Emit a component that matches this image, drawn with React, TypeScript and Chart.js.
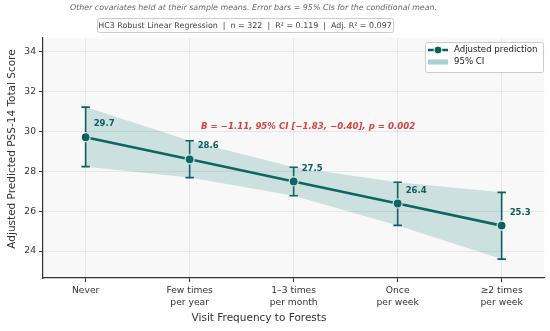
import React, { useEffect, useRef } from "react";
import { Chart, registerables } from "chart.js";

Chart.register(...registerables);

const categories: string[][] = [
  ["Never"],
  ["Few times", "per year"],
  ["1–3 times", "per month"],
  ["Once", "per week"],
  ["≥2 times", "per week"],
];
const predicted = [29.72, 28.61, 27.5, 26.39, 25.28];
const ciLow = [28.24, 27.69, 26.78, 25.29, 23.6];
const ciHigh = [31.23, 29.54, 28.21, 27.46, 26.95];
const yTicks = [24, 26, 28, 30, 32, 34];

const subtitleText =
  "Other covariates held at their sample means. Error bars = 95% CIs for the conditional mean.";
const modelText =
  "HC3 Robust Linear Regression  |  n = 322  |  R² = 0.119  |  Adj. R² = 0.097";
const slopeText = "B = −1.11, 95% CI [−1.83, −0.40], p = 0.002";
const xTitle = "Visit Frequency to Forests";
const yTitle = "Adjusted Predicted PSS-14 Total Score";
const legendLine = "Adjusted prediction";
const legendBand = "95% CI";

const TEAL = "#0b5e5b";
const FONT = "'DejaVu Sans', 'Liberation Sans', sans-serif";

const decorPlugin = {
  id: "decor",
  beforeDraw(chart: any) {
    const { ctx, chartArea } = chart;
    ctx.save();
    ctx.fillStyle = "#ffffff";
    ctx.fillRect(0, 0, chart.width, chart.height);
    ctx.fillStyle = "#f8f8f8";
    ctx.fillRect(
      chartArea.left,
      chartArea.top,
      chartArea.right - chartArea.left,
      chartArea.bottom - chartArea.top
    );
    ctx.restore();
  },
  beforeDatasetDraw(chart: any, args: any) {
    if (args.index !== 2) return;
    const { ctx } = chart;
    const xs = chart.scales.x;
    const ys = chart.scales.y;
    ctx.save();
    ctx.strokeStyle = TEAL;
    ctx.lineWidth = 1.6;
    ciLow.forEach((lo, i) => {
      const x = xs.getPixelForValue(i);
      const y1 = ys.getPixelForValue(lo);
      const y2 = ys.getPixelForValue(ciHigh[i]);
      ctx.beginPath();
      ctx.moveTo(x, y1);
      ctx.lineTo(x, y2);
      ctx.moveTo(x - 4.2, y1);
      ctx.lineTo(x + 4.2, y1);
      ctx.moveTo(x - 4.2, y2);
      ctx.lineTo(x + 4.2, y2);
      ctx.stroke();
    });
    ctx.restore();
  },
  afterDraw(chart: any) {
    const { ctx } = chart;
    const xs = chart.scales.x;
    const ys = chart.scales.y;
    ctx.save();
    // value labels
    ctx.fillStyle = TEAL;
    ctx.font = `bold 8.5px ${FONT}`;
    ctx.textAlign = "left";
    ctx.textBaseline = "middle";
    predicted.forEach((v, i) => {
      const x = xs.getPixelForValue(i);
      const y = ys.getPixelForValue(v);
      ctx.fillText(v.toFixed(1), x + 8, y - 13);
    });
    // slope annotation
    ctx.fillStyle = "#d9433b";
    ctx.font = `italic bold 8.6px ${FONT}`;
    ctx.fillText(slopeText, 201, 127);

    // subtitle
    ctx.fillStyle = "#666666";
    ctx.font = `italic 7.9px ${FONT}`;
    ctx.textAlign = "center";
    ctx.fillText(subtitleText, 253.5, 8);

    // model box
    ctx.font = `7.95px ${FONT}`;
    const bx = 97, by = 18, bw = 296, bh = 14;
    ctx.fillStyle = "#ffffff";
    ctx.strokeStyle = "#cccccc";
    ctx.lineWidth = 1;
    ctx.beginPath();
    ctx.roundRect(bx + 0.5, by + 0.5, bw, bh, 2);
    ctx.fill();
    ctx.stroke();
    ctx.fillStyle = "#444444";
    ctx.fillText(modelText, bx + bw / 2, by + bh / 2 + 0.5);

    // axis titles
    ctx.fillStyle = "#333333";
    ctx.font = `10.5px ${FONT}`;
    ctx.fillText(xTitle, 259, 318);
    ctx.save();
    ctx.translate(12, 149);
    ctx.rotate(-Math.PI / 2);
    ctx.fillText(yTitle, 0, 0);
    ctx.restore();

    // legend
    const lx = 425, ly = 42, lw = 118, lh = 30;
    ctx.fillStyle = "rgba(255,255,255,0.9)";
    ctx.strokeStyle = "#cccccc";
    ctx.beginPath();
    ctx.roundRect(lx + 0.5, ly + 0.5, lw, lh, 2);
    ctx.fill();
    ctx.stroke();
    ctx.strokeStyle = TEAL;
    ctx.lineWidth = 2.5;
    ctx.beginPath();
    ctx.moveTo(428, 50);
    ctx.lineTo(448, 50);
    ctx.stroke();
    ctx.fillStyle = TEAL;
    ctx.strokeStyle = "#ffffff";
    ctx.lineWidth = 1;
    ctx.beginPath();
    ctx.arc(438, 50, 4, 0, Math.PI * 2);
    ctx.fill();
    ctx.stroke();
    ctx.fillStyle = "#a8d0d0";
    ctx.fillRect(428, 59.5, 20, 5);
    ctx.fillStyle = "#222222";
    ctx.font = `8.6px ${FONT}`;
    ctx.textAlign = "left";
    ctx.fillText(legendLine, 454, 50);
    ctx.fillText(legendBand, 454, 62);
    ctx.restore();
  },
};

export default function App() {
  const ref = useRef<HTMLCanvasElement | null>(null);
  useEffect(() => {
    if (!ref.current) return;
    const pts = (arr: number[]) => arr.map((y, i) => ({ x: i, y }));
    const chart = new Chart(ref.current, {
      type: "line",
      data: {
        datasets: [
          {
            data: pts(ciLow),
            borderWidth: 0,
            pointRadius: 0,
            fill: false,
            borderColor: "rgba(0,0,0,0)",
          },
          {
            data: pts(ciHigh),
            borderWidth: 0,
            pointRadius: 0,
            fill: "-1",
            borderColor: "rgba(0,0,0,0)",
            backgroundColor: "rgba(30,130,130,0.2)",
          },
          {
            data: pts(predicted),
            borderColor: TEAL,
            borderWidth: 2.6,
            pointRadius: 4.5,
            pointBackgroundColor: TEAL,
            pointBorderColor: "#ffffff",
            pointBorderWidth: 1.2,
            fill: false,
          },
        ],
      },
      options: {
        responsive: false,
        devicePixelRatio: 1,
        animation: false,
        layout: { padding: { top: 38, right: 1, left: 0, bottom: 0 } },
        plugins: { legend: { display: false }, tooltip: { enabled: false } },
        scales: {
          x: {
            type: "linear",
            min: -0.41,
            max: 4.41,
            afterBuildTicks: (s: any) => {
              s.ticks = categories.map((_, i) => ({ value: i }));
            },
            afterFit: (s: any) => {
              s.height = 53;
            },
            ticks: {
              callback: (_v: any, i: number) => categories[i],
              color: "#333333",
              font: { family: FONT, size: 9.2, lineHeight: 1.25 },
              padding: 3,
              maxRotation: 0,
              autoSkip: false,
            },
            grid: { color: "#e6e6e6", tickColor: "#333333", tickLength: 4 },
            border: { color: "#333333", width: 1.2 },
          },
          y: {
            min: 22.65,
            max: 34.7,
            afterBuildTicks: (s: any) => {
              s.ticks = yTicks.map((v) => ({ value: v }));
            },
            afterFit: (s: any) => {
              s.width = 43;
            },
            ticks: {
              color: "#333333",
              font: { family: FONT, size: 9.2 },
              padding: 3,
            },
            grid: { color: "#e6e6e6", tickColor: "#333333", tickLength: 4 },
            border: { color: "#333333", width: 1.2 },
          },
        },
      },
      plugins: [decorPlugin],
    });
    return () => chart.destroy();
  }, []);
  return (
    <div style={{ position: "fixed", left: 0, top: 0, width: 550, height: 331 }}>
      <canvas ref={ref} width={550} height={331} />
    </div>
  );
}
